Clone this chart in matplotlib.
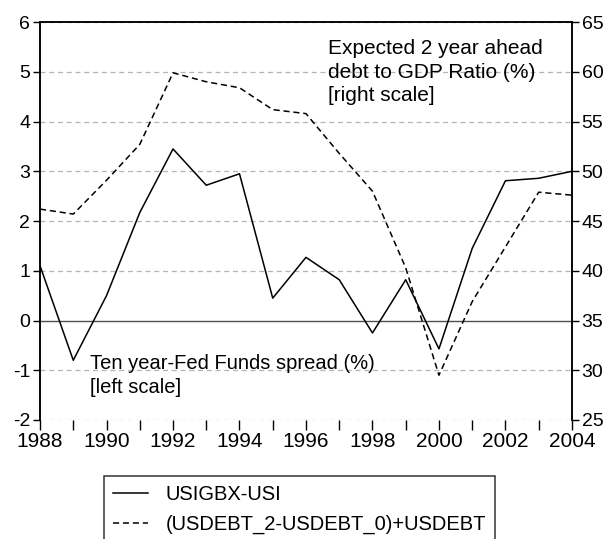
import matplotlib
matplotlib.use("Agg")
import matplotlib.pyplot as plt

plt.rcParams['font.family'] = ['Liberation Sans', 'DejaVu Sans']
plt.rcParams['axes.unicode_minus'] = False

# data
years = list(range(1988, 2005))
spread = [1.1, -0.8, 0.5, 2.17, 3.45, 2.72, 2.95, 0.45, 1.27, 0.82,
          -0.25, 0.82, -0.57, 1.45, 2.81, 2.86, 3.0]
debt = [46.2, 45.7, 49.1, 52.7, 59.9, 59.0, 58.4, 56.2, 55.8, 51.8,
        48.0, 40.3, 29.5, 36.9, 42.4, 47.9, 47.6]

left_ticks = [-2, -1, 0, 1, 2, 3, 4, 5, 6]
right_ticks = [25, 30, 35, 40, 45, 50, 55, 60, 65]
xtick_labels = list(range(1988, 2005, 2))

fig = plt.figure(figsize=(6.13, 5.39), dpi=100)
ax = fig.add_axes([0.0653, 0.2208, 0.8677, 0.7382])
ax2 = ax.twinx()

# grid
for v in left_ticks:
    if v == 0:
        ax.axhline(v, color='#505050', lw=1.0, zorder=1)
    else:
        ax.axhline(v, color='#b4b4b4', lw=0.9, ls=(0, (4, 3)), zorder=1)

l1, = ax.plot(years, spread, color='black', lw=1.1, zorder=3, label='USIGBX-USI')
l2, = ax2.plot(years, debt, color='black', lw=1.1, ls=(0, (4, 2.5)), zorder=3,
               label='(USDEBT_2-USDEBT_0)+USDEBT')

ax.set_xlim(1988, 2004)
ax.set_ylim(-2, 6)
ax2.set_ylim(25, 65)
ax.set_yticks(left_ticks)
ax2.set_yticks(right_ticks)
ax.set_xticks(years, minor=False)
ax.set_xticklabels([str(y) if y in xtick_labels else '' for y in years])

for a in (ax, ax2):
    a.spines['bottom'].set_visible(False)
    a.spines['top'].set_linewidth(1.1)
    a.spines['left'].set_linewidth(1.1)
    a.spines['right'].set_linewidth(1.1)
ax.tick_params(axis='y', direction='out', length=5, width=1, labelsize=14, pad=2)
ax2.tick_params(axis='y', direction='out', length=5, width=1, labelsize=14, pad=2)
ax.tick_params(axis='x', direction='out', length=7, width=1, labelsize=15, pad=2)

ax.text(1996.66, 5.66, 'Expected 2 year ahead\ndebt to GDP Ratio (%)\n[right scale]',
        fontsize=15, va='top', ha='left', linespacing=1.3)
ax.text(1989.5, -0.68, 'Ten year-Fed Funds spread (%)\n[left scale]',
        fontsize=14.5, va='top', ha='left', linespacing=1.3)

leg = fig.legend([l1, l2], [l1.get_label(), l2.get_label()],
                 loc='upper left', bbox_to_anchor=(0.170, 0.117),
                 borderaxespad=0, fontsize=14.5, frameon=True, fancybox=False,
                 handlelength=1.7, handletextpad=0.9, borderpad=0.45,
                 labelspacing=0.55)
leg.get_frame().set_edgecolor('black')
leg.get_frame().set_linewidth(1.1)

fig.savefig('out.png', dpi=100)
